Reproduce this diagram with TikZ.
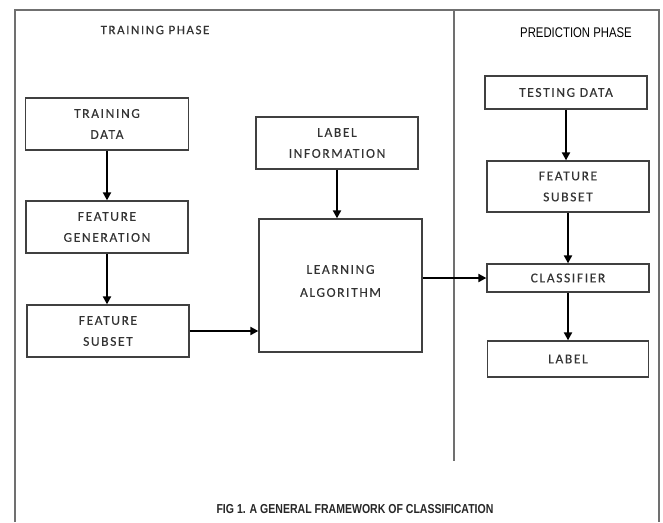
\documentclass[tikz,border=0pt]{standalone}
\usepackage{fontspec}
\setmainfont{Carlito}
\newfontfamily\boxfont[LetterSpace=12,FakeBold=0.3]{Carlito}
\newfontfamily\capfont{Liberation Sans}
\usetikzlibrary{arrows.meta}
\definecolor{framegray}{HTML}{707070}
\definecolor{boxgray}{HTML}{404040}
\definecolor{txtgray}{HTML}{333333}
\begin{document}
\begin{tikzpicture}[x=1pt,y=-1pt,
  blk/.style={draw=boxgray,line width=1.3pt,inner sep=0pt,align=center,
     text=txtgray,font=\boxfont\fontsize{13.5}{21}\selectfont},
  conn/.style={line width=2pt,-{Triangle[length=8pt,width=8pt]}},
  frame/.style={draw=framegray,line width=1.4pt}]
\useasboundingbox (0,0) rectangle (663,522);
% frame
\path[frame] (15,522) -- (15,10) -- (659,10) -- (659,522);
\coordinate (dtop) at (454,10);
\coordinate (dbot) at (454,461);
\path[frame] (dtop) -- (dbot);
% phase titles
\node[text=txtgray,font=\boxfont\fontsize{13}{15}\selectfont] (tp) at (155,30) {TRAINING PHASE};
\node[text=black,font=\capfont\fontsize{14}{16}\selectfont,xscale=0.81] (pp) at (576,33) {PREDICTION PHASE};
% training column
\node[blk,minimum width=163pt,minimum height=52pt] (td) at (107,124) {TRAINING\\DATA};
\node[blk,minimum width=162pt,minimum height=52pt] (fg) at (107,227) {FEATURE\\GENERATION};
\node[blk,minimum width=162pt,minimum height=52pt] (fs) at (108,331) {FEATURE\\SUBSET};
\node[blk,minimum width=162pt,minimum height=52pt] (li) at (337,143) {LABEL\\INFORMATION};
\node[blk,minimum width=163pt,minimum height=133pt] (la) at (340.5,285.5) {};
\node[blk,draw=none,font=\boxfont\fontsize{13.5}{23}\selectfont] (latext) at (340.5,281) {LEARNING\\ALGORITHM};
% prediction column
\node[blk,minimum width=162pt,minimum height=33pt] (tsd) at (566,92.5) {TESTING DATA};
\node[blk,minimum width=162pt,minimum height=51pt] (fs2) at (568,186.5) {FEATURE\\SUBSET};
\node[blk,minimum width=162pt,minimum height=28pt] (cl) at (568,278) {CLASSIFIER};
\node[blk,minimum width=161pt,minimum height=36pt] (lb) at (568,359) {LABEL};
% connectors
\draw[conn] (td.south) -- (td.south |- fg.north);
\draw[conn] (fg.south) -- (fg.south |- fs.north);
\draw[conn] (fs.east) -- (fs.east -| la.west);
\draw[conn] (li.south) -- (li.south |- la.north);
\draw[conn] (cl.west -| la.east) -- (cl.west);
\draw[conn] (tsd.south) -- (tsd.south |- fs2.north);
\draw[conn] (fs2.south) -- (cl.north);
\draw[conn] (cl.south) -- (lb.north);
% caption
\node[font=\capfont\bfseries\fontsize{13}{15}\selectfont,xscale=0.81,text=black!85] (cap) at (355,509) {FIG 1. A GENERAL FRAMEWORK OF CLASSIFICATION};
\end{tikzpicture}
\end{document}
